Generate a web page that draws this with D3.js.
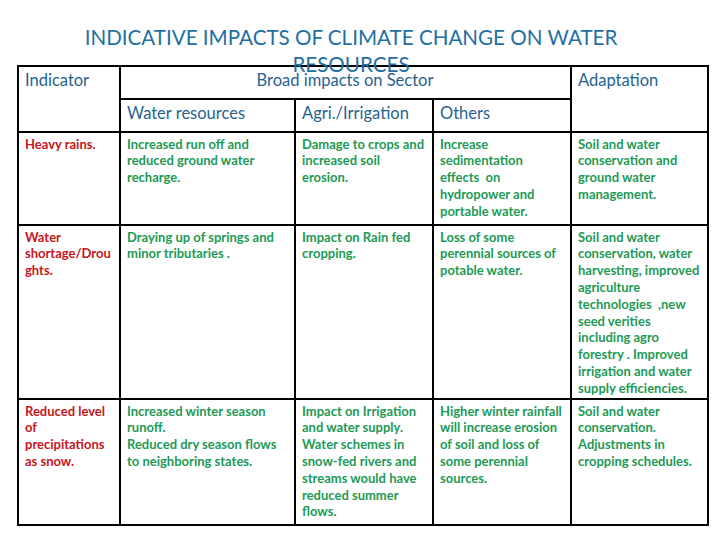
<!DOCTYPE html>
<html><head><meta charset="utf-8">
<script src="https://cdn.jsdelivr.net/npm/d3@7"></script>
<style>body{margin:0;background:#fff}svg{display:block}</style>
</head><body><svg id="c" width="720" height="540"></svg>
<script>
const titleLines = ["INDICATIVE IMPACTS OF CLIMATE CHANGE ON WATER", "RESOURCES"];
const headers = ["Indicator", "Broad impacts on Sector", "Adaptation"];
const subHeaders = ["Water resources", "Agri./Irrigation", "Others"];
const indicators = [
  ["Heavy rains."],
  ["Water", "shortage/Drou", "ghts."],
  ["Reduced level", "of", "precipitations", "as snow."]
];
const waterResources = [
  ["Increased run off and", "reduced ground water", "recharge."],
  ["Draying up of springs and", "minor tributaries ."],
  ["Increased winter season", "runoff.", "Reduced dry season flows", "to neighboring states."]
];
const agriIrrigation = [
  ["Damage to crops and", "increased soil", "erosion."],
  ["Impact on Rain fed", "cropping."],
  ["Impact on Irrigation", "and water supply.", "Water schemes in", "snow-fed rivers and", "streams would have", "reduced summer", "flows."]
];
const others = [
  ["Increase", "sedimentation", "effects  on", "hydropower and", "portable water."],
  ["Loss of some", "perennial sources of", "potable water."],
  ["Higher winter rainfall", "will increase erosion", "of soil and loss of", "some perennial", "sources."]
];
const adaptation = [
  ["Soil and water", "conservation and", "ground water", "management."],
  ["Soil and water", "conservation, water", "harvesting, improved", "agriculture", "technologies  ,new", "seed verities", "including agro", "forestry . Improved", "irrigation and water", "supply efficiencies."],
  ["Soil and water", "conservation.", "Adjustments in", "cropping schedules."]
];

const svg = d3.select("#c");
const colEdges = [18, 120, 295, 433, 571, 708];
const rowEdges = [66, 99, 132, 225, 399, 525];
const colX = i => colEdges[i];
const rowY = i => rowEdges[i];
const FONT = "Lato, 'Open Sans', sans-serif";
const hdrColor = "#1f6391";
const green = "#1d9a55";
const red = "#c8151b";

// Body cells
const columns = [indicators, waterResources, agriIrrigation, others, adaptation];
const cells = [];
columns.forEach((col, ci) => col.forEach((lines, ri) => cells.push({ci, ri, lines})));
const lineH = 16.8;
const g = svg.append("g");
g.selectAll("text.cell").data(cells).join("text")
  .attr("class", "cell")
  .attr("x", d => colX(d.ci) + 7)
  .attr("y", d => rowY(d.ri + 2) + 16.5)
  .attr("font-family", FONT)
  .attr("font-weight", "bold")
  .attr("font-size", 13)
  .attr("fill", d => d.ci === 0 ? red : green)
  .each(function(d) {
    d3.select(this).selectAll("tspan").data(d.lines).join("tspan")
      .attr("x", colX(d.ci) + 7)
      .attr("dy", (l, i) => i === 0 ? 0 : lineH)
      .attr("xml:space", "preserve")
      .text(l => l);
  });

// Headers
const hdrPos = [
  {t: headers[0], x: colX(0) + 7, anchor: "start"},
  {t: headers[1], x: 345, anchor: "middle"},
  {t: headers[2], x: colX(4) + 7, anchor: "start"}
];
svg.selectAll("text.hdr").data(hdrPos).join("text").attr("class", "hdr")
  .attr("x", d => d.x).attr("y", 86).attr("text-anchor", d => d.anchor)
  .attr("font-family", FONT).attr("font-size", 16.5).attr("fill", hdrColor)
  .text(d => d.t);
svg.selectAll("text.sub").data(subHeaders).join("text").attr("class", "sub")
  .attr("x", (d, i) => colX(i + 1) + 7).attr("y", 119)
  .attr("font-family", FONT).attr("font-size", 16.5).attr("fill", hdrColor)
  .text(d => d);

// Grid lines
const lines = [];
rowEdges.forEach((y, i) => {
  if (i === 1) lines.push({x1: colX(1), x2: colX(4), y1: y, y2: y});
  else lines.push({x1: colEdges[0], x2: colEdges[5], y1: y, y2: y});
});
colEdges.forEach((cx, i) => {
  const top = (i === 2 || i === 3) ? rowEdges[1] : rowEdges[0];
  lines.push({x1: cx, x2: cx, y1: top, y2: rowEdges[5]});
});
svg.selectAll("line.grid").data(lines).join("line").attr("class", "grid")
  .attr("x1", d => d.x1).attr("x2", d => d.x2).attr("y1", d => d.y1).attr("y2", d => d.y2)
  .attr("stroke", "#000").attr("stroke-width", 2).attr("stroke-linecap", "square");

// Title
svg.selectAll("text.title").data(titleLines).join("text").attr("class", "title")
  .attr("x", 351).attr("y", (d, i) => 45 + i * 27)
  .attr("text-anchor", "middle")
  .attr("font-family", FONT).attr("font-size", 20.6).attr("fill", "#1f6fa3")
  .text(d => d);
</script></body></html>
